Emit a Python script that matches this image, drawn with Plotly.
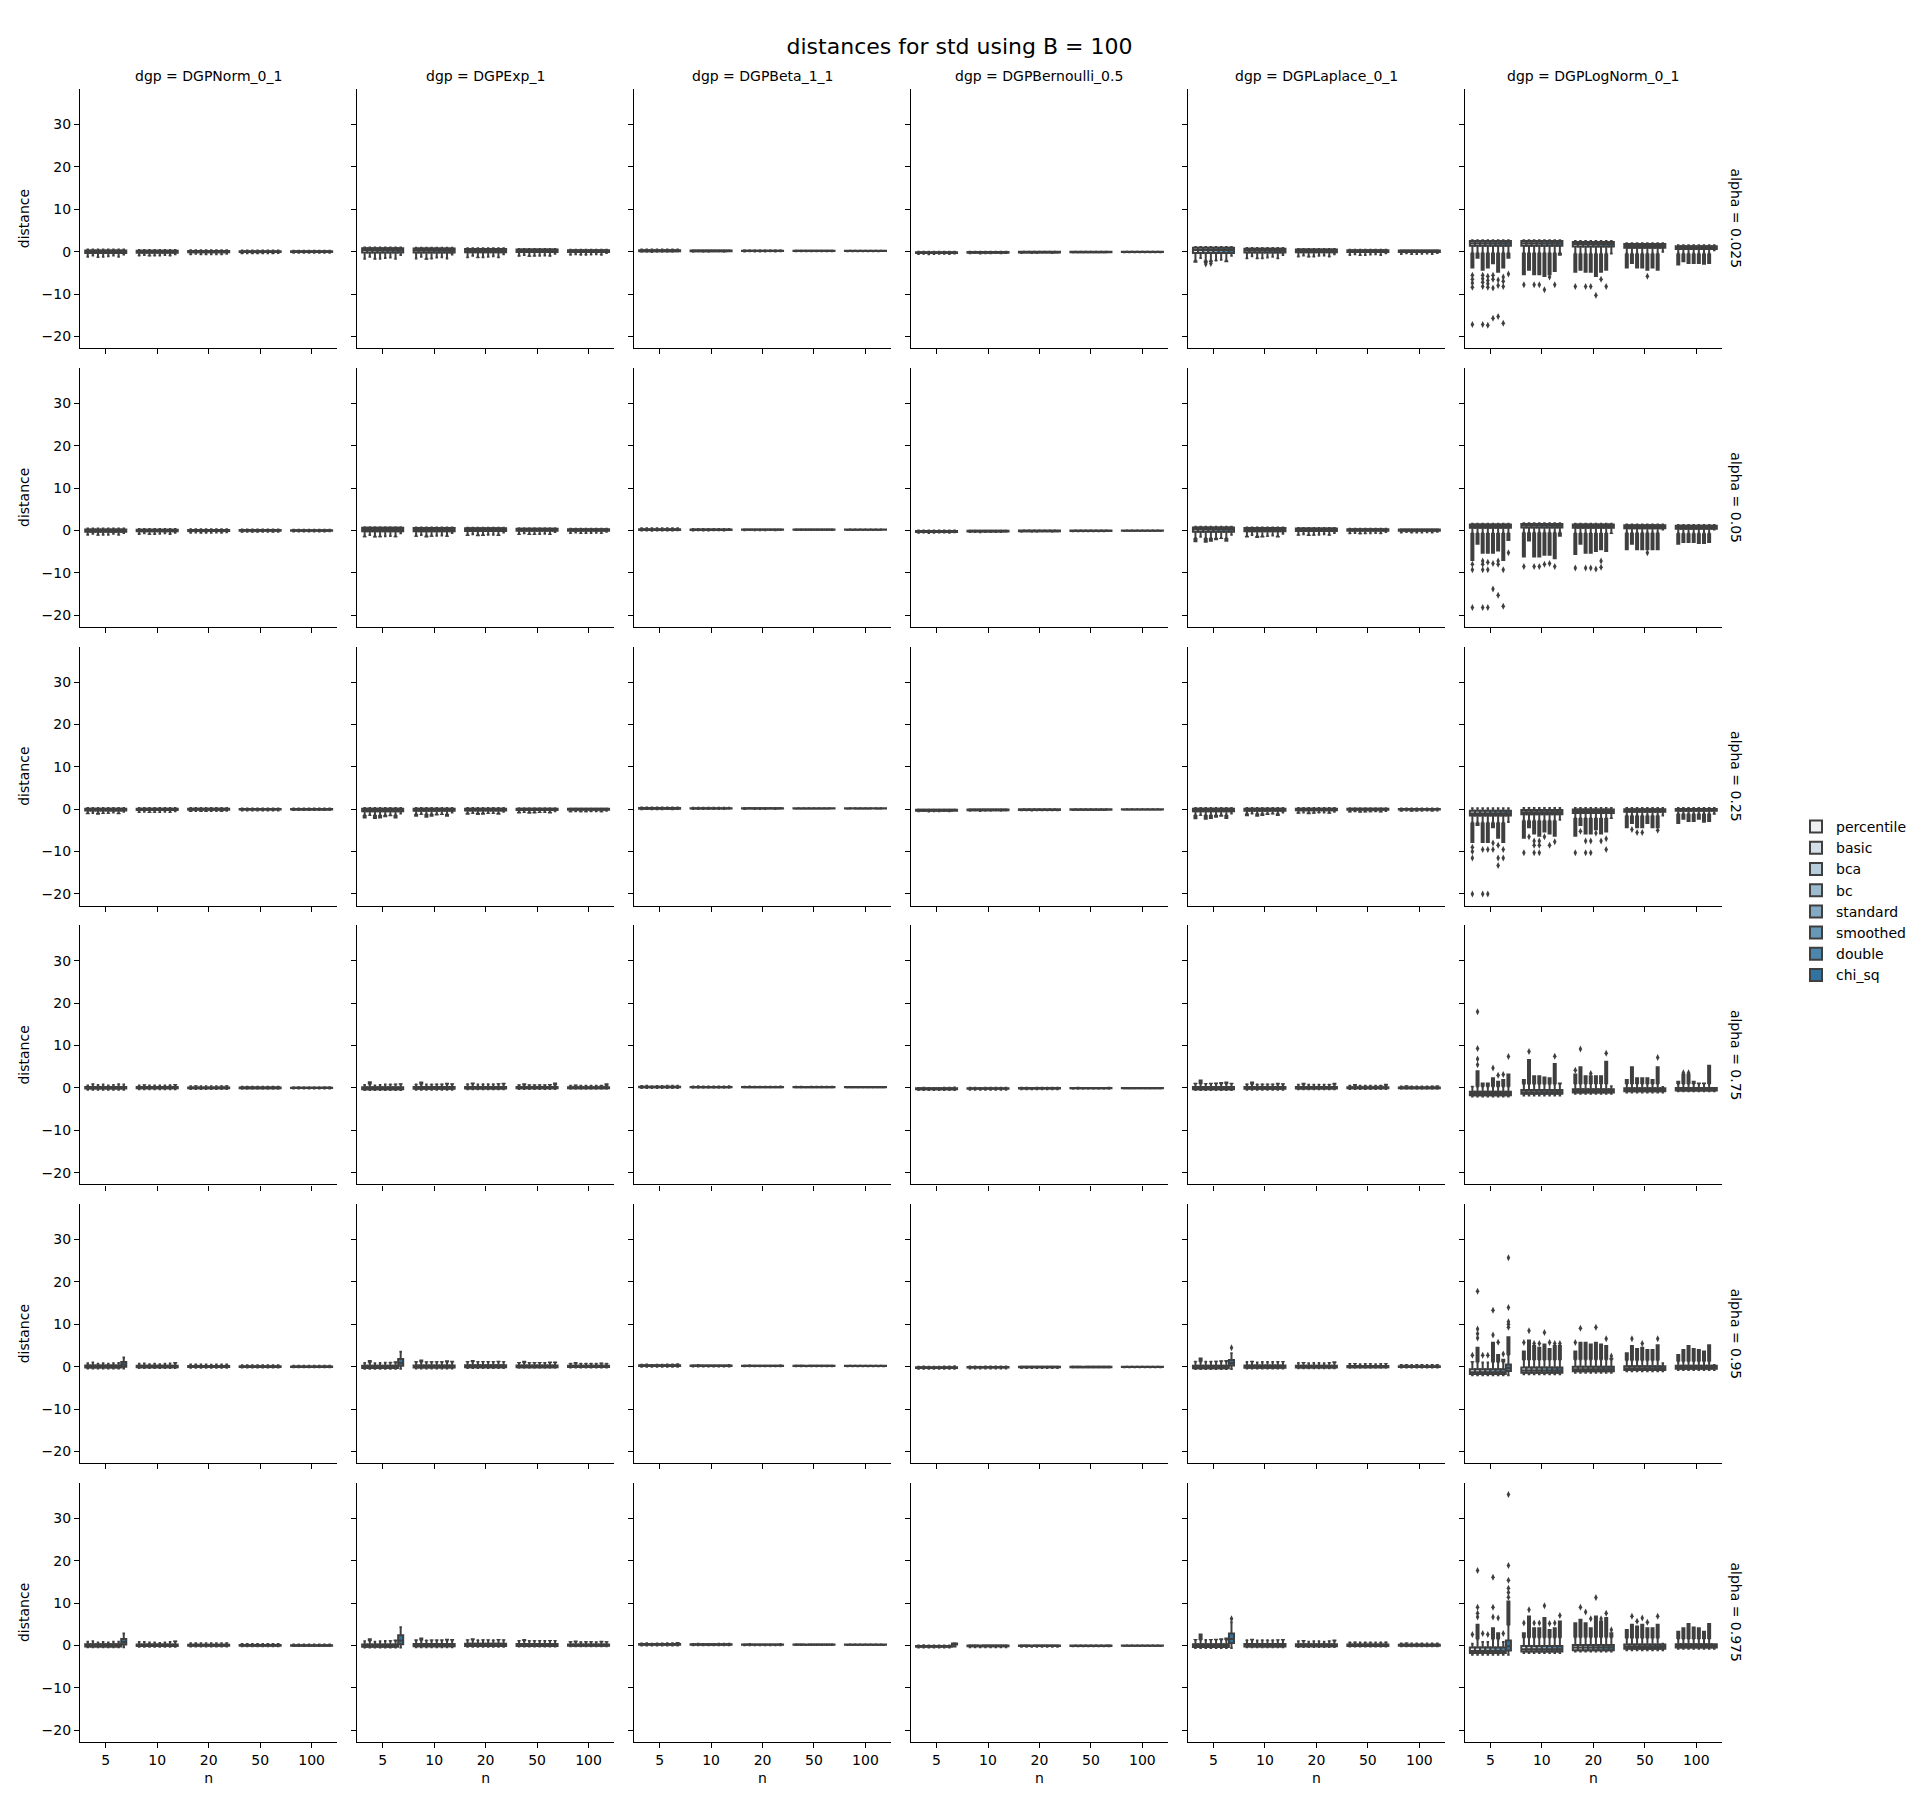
import plotly.graph_objects as go
from plotly.subplots import make_subplots

# ---------------- data ----------------
DGPS = ["DGPNorm_0_1", "DGPExp_1", "DGPBeta_1_1", "DGPBernoulli_0.5", "DGPLaplace_0_1", "DGPLogNorm_0_1"]
ALPHAS = ["0.025", "0.05", "0.25", "0.75", "0.95", "0.975"]
NS = ["5", "10", "20", "50", "100"]
METHODS = ["percentile", "basic", "bca", "bc", "standard", "smoothed", "double", "chi_sq"]
COLORS = ["#eef0f2", "#d3dee6", "#b8cddb", "#9dbbcf", "#83a9c4", "#6898b8", "#4d86ad", "#3274a1"]
YTICKS = [-20, -10, 0, 10, 20, 30]

# per dgp: BOX[alpha][n] = [q1, median, q3]; SHORT[alpha][n] = short-side whisker end;
# LONG[alpha][n][method] = end of whisker + dense outliers on the long side
NORM_BOX = [
    [[-0.35, -0.05, 0.25], [-0.25, 0.0, 0.2], [-0.15, 0.02, 0.15], [-0.1, 0.0, 0.1], [-0.07, 0.0, 0.07]],
    [[-0.3, -0.05, 0.2], [-0.22, 0.0, 0.18], [-0.14, 0.0, 0.12], [-0.09, 0.0, 0.08], [-0.06, 0.0, 0.06]],
    [[-0.3, -0.1, 0.1], [-0.2, -0.05, 0.1], [-0.12, 0.0, 0.08], [-0.08, 0.0, 0.06], [-0.05, 0.0, 0.04]],
    [[-0.15, 0.0, 0.25], [-0.1, 0.02, 0.2], [-0.08, 0.02, 0.12], [-0.05, 0.0, 0.08], [-0.04, 0.0, 0.05]],
    [[-0.2, 0.0, 0.3], [-0.1, 0.05, 0.25], [-0.08, 0.02, 0.15], [-0.05, 0.02, 0.1], [-0.04, 0.0, 0.06]],
    [[-0.25, 0.0, 0.3], [-0.12, 0.05, 0.25], [-0.08, 0.03, 0.16], [-0.05, 0.02, 0.1], [-0.04, 0.0, 0.07]],
]
NORM_SHORT = [
    [0.5, 0.4, 0.3, 0.25, 0.18],
    [0.45, 0.35, 0.28, 0.22, 0.16],
    [0.3, 0.3, 0.25, 0.18, 0.13],
    [-0.4, -0.3, -0.25, -0.2, -0.15],
    [-0.4, -0.3, -0.25, -0.18, -0.14],
    [-0.45, -0.3, -0.25, -0.18, -0.14],
]
NORM_LONG = [
    [[-1.2, -0.9, -1.3, -1.2, -1.1, -0.9, -1.2, -0.7],
     [-1.0, -0.8, -1.1, -1.0, -0.9, -0.8, -1.0, -0.6],
     [-0.7, -0.5, -0.7, -0.7, -0.6, -0.6, -0.7, -0.5],
     [-0.5, -0.4, -0.5, -0.5, -0.45, -0.4, -0.5, -0.35],
     [-0.35, -0.3, -0.35, -0.35, -0.3, -0.3, -0.35, -0.25]],
    [[-1.1, -0.8, -1.2, -1.1, -1.0, -0.8, -1.1, -0.6],
     [-0.9, -0.7, -1.0, -0.9, -0.8, -0.7, -0.9, -0.55],
     [-0.6, -0.5, -0.65, -0.6, -0.55, -0.5, -0.6, -0.45],
     [-0.45, -0.35, -0.45, -0.45, -0.4, -0.35, -0.45, -0.3],
     [-0.3, -0.25, -0.3, -0.3, -0.28, -0.25, -0.3, -0.2]],
    [[-1.2, -0.9, -1.3, -1.1, -1.0, -0.8, -1.2, -0.6],
     [-0.8, -0.6, -0.9, -0.8, -0.7, -0.6, -0.8, -0.5],
     [-0.6, -0.45, -0.6, -0.6, -0.5, -0.45, -0.6, -0.4],
     [-0.4, -0.35, -0.4, -0.4, -0.38, -0.35, -0.4, -0.3],
     [-0.3, -0.25, -0.3, -0.3, -0.28, -0.25, -0.3, -0.2]],
    [[0.6, 1.0, 0.7, 0.8, 0.6, 0.7, 0.9, 0.8],
     [0.6, 0.8, 0.6, 0.6, 0.55, 0.6, 0.7, 0.9],
     [0.45, 0.55, 0.45, 0.45, 0.4, 0.45, 0.5, 0.6],
     [0.35, 0.4, 0.35, 0.35, 0.32, 0.35, 0.38, 0.4],
     [0.25, 0.3, 0.25, 0.25, 0.22, 0.25, 0.28, 0.3]],
    [[0.8, 1.0, 0.7, 0.8, 0.7, 0.8, 0.9, 2.2],
     [0.7, 0.8, 0.6, 0.7, 0.6, 0.7, 0.8, 1.1],
     [0.5, 0.6, 0.5, 0.5, 0.45, 0.5, 0.55, 0.6],
     [0.35, 0.4, 0.35, 0.35, 0.32, 0.35, 0.38, 0.4],
     [0.25, 0.3, 0.25, 0.25, 0.22, 0.25, 0.28, 0.3]],
    [[0.9, 1.0, 0.7, 0.8, 0.7, 0.9, 0.9, 2.8],
     [0.8, 0.8, 0.7, 0.7, 0.6, 0.7, 0.8, 1.2],
     [0.55, 0.6, 0.5, 0.55, 0.5, 0.5, 0.55, 0.65],
     [0.4, 0.42, 0.38, 0.4, 0.35, 0.38, 0.4, 0.42],
     [0.28, 0.3, 0.26, 0.28, 0.25, 0.26, 0.28, 0.3]],
]

EXP_BOX = [
    [[-0.2, 0.4, 0.8], [-0.2, 0.35, 0.75], [-0.15, 0.3, 0.65], [-0.1, 0.2, 0.5], [-0.08, 0.15, 0.35]],
    [[-0.2, 0.3, 0.6], [-0.18, 0.25, 0.55], [-0.12, 0.2, 0.5], [-0.1, 0.15, 0.4], [-0.07, 0.1, 0.3]],
    [[-0.5, -0.15, 0.1], [-0.4, -0.1, 0.1], [-0.3, -0.05, 0.1], [-0.2, -0.02, 0.1], [-0.15, 0.0, 0.08]],
    [[-0.3, -0.1, 0.15], [-0.2, 0.0, 0.2], [-0.15, 0.05, 0.25], [-0.1, 0.05, 0.2], [-0.08, 0.05, 0.15]],
    [[-0.3, -0.05, 0.2], [-0.2, 0.05, 0.3], [-0.15, 0.1, 0.35], [-0.1, 0.08, 0.3], [-0.08, 0.06, 0.22]],
    [[-0.3, -0.05, 0.25], [-0.2, 0.05, 0.35], [-0.15, 0.1, 0.4], [-0.1, 0.1, 0.35], [-0.08, 0.08, 0.25]],
]
EXP_SHORT = [
    [1.0, 0.9, 0.8, 0.6, 0.45],
    [0.75, 0.7, 0.6, 0.5, 0.38],
    [0.3, 0.3, 0.25, 0.2, 0.18],
    [-0.5, -0.4, -0.3, -0.25, -0.2],
    [-0.5, -0.4, -0.3, -0.25, -0.2],
    [-0.5, -0.4, -0.3, -0.25, -0.2],
]
EXP_LONG = [
    [[-1.7, -1.2, -1.8, -1.7, -1.5, -1.4, -1.7, -0.8],
     [-1.6, -1.2, -1.9, -1.7, -1.4, -1.3, -1.6, -0.7],
     [-1.4, -1.0, -1.5, -1.4, -1.2, -1.1, -1.4, -0.6],
     [-1.1, -0.8, -1.2, -1.1, -1.0, -0.9, -1.1, -0.5],
     [-0.8, -0.6, -0.8, -0.8, -0.7, -0.6, -0.8, -0.35]],
    [[-1.6, -1.1, -1.7, -1.6, -1.4, -1.3, -1.6, -0.7],
     [-1.5, -1.1, -1.7, -1.5, -1.3, -1.2, -1.5, -0.6],
     [-1.3, -0.9, -1.4, -1.3, -1.1, -1.0, -1.3, -0.5],
     [-1.0, -0.7, -1.1, -1.0, -0.9, -0.8, -1.0, -0.4],
     [-0.7, -0.5, -0.75, -0.7, -0.6, -0.55, -0.7, -0.3]],
    [[-2.2, -1.5, -2.3, -2.2, -1.9, -1.7, -2.2, -1.0],
     [-1.8, -1.3, -2.0, -1.8, -1.5, -1.4, -1.8, -0.8],
     [-1.3, -1.0, -1.4, -1.3, -1.1, -1.0, -1.3, -0.6],
     [-1.0, -0.8, -1.1, -1.0, -0.9, -0.8, -1.0, -0.5],
     [-0.7, -0.55, -0.75, -0.7, -0.6, -0.55, -0.7, -0.35]],
    [[0.7, 1.6, 0.6, 0.7, 0.8, 0.9, 1.0, 1.1],
     [0.9, 1.5, 0.8, 0.9, 1.0, 1.0, 1.2, 1.1],
     [0.9, 1.3, 0.8, 0.9, 0.9, 0.9, 1.1, 1.2],
     [0.8, 1.1, 0.8, 0.8, 0.8, 0.8, 0.9, 1.3],
     [0.6, 0.8, 0.6, 0.6, 0.6, 0.6, 0.7, 1.1]],
    [[0.9, 1.6, 0.8, 0.9, 1.0, 1.1, 1.3, 3.5],
     [1.3, 1.7, 1.2, 1.3, 1.3, 1.3, 1.5, 1.4],
     [1.3, 1.6, 1.2, 1.3, 1.3, 1.2, 1.4, 1.2],
     [1.1, 1.4, 1.0, 1.1, 1.1, 1.0, 1.2, 1.2],
     [0.9, 1.1, 0.8, 0.9, 0.9, 0.8, 1.0, 0.9]],
    [[1.0, 1.7, 0.9, 1.0, 1.1, 1.2, 1.4, 4.3],
     [1.4, 1.9, 1.3, 1.4, 1.4, 1.4, 1.6, 1.5],
     [1.4, 1.7, 1.3, 1.4, 1.4, 1.3, 1.5, 1.4],
     [1.2, 1.5, 1.1, 1.2, 1.2, 1.1, 1.3, 1.2],
     [1.0, 1.2, 0.9, 1.0, 1.0, 0.9, 1.1, 1.0]],
]

BETA_BOX = [
    [[0.1, 0.2, 0.3], [0.12, 0.18, 0.25], [0.13, 0.17, 0.22], [0.14, 0.17, 0.2], [0.15, 0.17, 0.19]],
    [[0.1, 0.2, 0.3], [0.12, 0.18, 0.24], [0.13, 0.17, 0.22], [0.14, 0.17, 0.2], [0.15, 0.17, 0.19]],
    [[0.12, 0.2, 0.28], [0.13, 0.18, 0.24], [0.14, 0.18, 0.22], [0.15, 0.17, 0.2], [0.16, 0.17, 0.19]],
    [[0.15, 0.22, 0.3], [0.15, 0.2, 0.25], [0.15, 0.19, 0.23], [0.16, 0.18, 0.21], [0.16, 0.18, 0.2]],
    [[0.15, 0.22, 0.32], [0.15, 0.2, 0.26], [0.15, 0.19, 0.23], [0.16, 0.18, 0.21], [0.16, 0.18, 0.2]],
    [[0.15, 0.23, 0.33], [0.15, 0.2, 0.26], [0.15, 0.19, 0.24], [0.16, 0.18, 0.21], [0.16, 0.18, 0.2]],
]
BETA_SHORT = [
    [0.5, 0.35, 0.3, 0.25, 0.22],
    [0.48, 0.35, 0.3, 0.25, 0.22],
    [0.4, 0.32, 0.28, 0.24, 0.21],
    [0.0, 0.05, 0.08, 0.1, 0.12],
    [0.0, 0.05, 0.08, 0.1, 0.12],
    [0.0, 0.05, 0.08, 0.1, 0.12],
]
BETA_LONG = [
    [[-0.05, 0.0, -0.1, -0.05, -0.05, 0.0, -0.05, 0.05],
     [0.0, 0.05, -0.02, 0.0, 0.02, 0.05, 0.0, 0.08],
     [0.05, 0.08, 0.03, 0.05, 0.05, 0.08, 0.05, 0.1],
     [0.08, 0.1, 0.07, 0.08, 0.08, 0.1, 0.08, 0.12],
     [0.1, 0.12, 0.1, 0.1, 0.11, 0.12, 0.1, 0.13]],
    [[-0.04, 0.0, -0.08, -0.04, -0.04, 0.0, -0.04, 0.05],
     [0.0, 0.05, -0.02, 0.0, 0.02, 0.05, 0.0, 0.08],
     [0.05, 0.08, 0.03, 0.05, 0.05, 0.08, 0.05, 0.1],
     [0.08, 0.1, 0.07, 0.08, 0.08, 0.1, 0.08, 0.12],
     [0.1, 0.12, 0.1, 0.1, 0.11, 0.12, 0.1, 0.13]],
    [[0.0, 0.03, -0.03, 0.0, 0.0, 0.03, 0.0, 0.06],
     [0.03, 0.06, 0.02, 0.03, 0.04, 0.06, 0.03, 0.09],
     [0.06, 0.09, 0.05, 0.06, 0.06, 0.09, 0.06, 0.11],
     [0.09, 0.11, 0.08, 0.09, 0.09, 0.11, 0.09, 0.13],
     [0.11, 0.13, 0.11, 0.11, 0.12, 0.13, 0.11, 0.14]],
    [[0.45, 0.5, 0.4, 0.45, 0.45, 0.5, 0.5, 0.55],
     [0.35, 0.38, 0.33, 0.35, 0.35, 0.36, 0.36, 0.4],
     [0.3, 0.32, 0.28, 0.3, 0.3, 0.3, 0.3, 0.32],
     [0.26, 0.27, 0.25, 0.26, 0.26, 0.26, 0.26, 0.27],
     [0.23, 0.24, 0.22, 0.23, 0.23, 0.23, 0.23, 0.24]],
    [[0.45, 0.5, 0.4, 0.45, 0.45, 0.5, 0.5, 0.7],
     [0.36, 0.4, 0.34, 0.36, 0.36, 0.37, 0.37, 0.45],
     [0.3, 0.32, 0.28, 0.3, 0.3, 0.3, 0.3, 0.33],
     [0.26, 0.27, 0.25, 0.26, 0.26, 0.26, 0.26, 0.27],
     [0.23, 0.24, 0.22, 0.23, 0.23, 0.23, 0.23, 0.24]],
    [[0.48, 0.52, 0.42, 0.48, 0.48, 0.52, 0.52, 0.8],
     [0.37, 0.4, 0.35, 0.37, 0.37, 0.38, 0.38, 0.5],
     [0.31, 0.33, 0.29, 0.31, 0.31, 0.31, 0.31, 0.34],
     [0.26, 0.27, 0.25, 0.26, 0.26, 0.26, 0.26, 0.28],
     [0.23, 0.24, 0.22, 0.23, 0.23, 0.23, 0.23, 0.24]],
]

BERN_BOX = [
    [[-0.35, -0.25, -0.15], [-0.25, -0.15, -0.08], [-0.18, -0.1, -0.05], [-0.12, -0.07, -0.03], [-0.08, -0.05, -0.02]],
    [[-0.35, -0.25, -0.15], [-0.25, -0.15, -0.08], [-0.18, -0.1, -0.05], [-0.12, -0.07, -0.03], [-0.08, -0.05, -0.02]],
    [[-0.35, -0.25, -0.15], [-0.24, -0.14, -0.07], [-0.17, -0.1, -0.04], [-0.11, -0.06, -0.02], [-0.08, -0.04, -0.01]],
    [[-0.3, -0.2, -0.1], [-0.2, -0.12, -0.05], [-0.15, -0.08, -0.03], [-0.1, -0.05, -0.01], [-0.07, -0.03, 0.0]],
    [[-0.3, -0.2, -0.1], [-0.2, -0.12, -0.04], [-0.15, -0.08, -0.02], [-0.1, -0.05, -0.01], [-0.07, -0.03, 0.0]],
    [[-0.3, -0.2, -0.1], [-0.2, -0.1, -0.03], [-0.14, -0.07, -0.02], [-0.1, -0.05, 0.0], [-0.07, -0.03, 0.0]],
]
BERN_SHORT = [
    [-0.05, -0.02, 0.0, 0.0, 0.0],
    [-0.05, -0.02, 0.0, 0.0, 0.0],
    [-0.05, -0.02, 0.0, 0.0, 0.0],
    [-0.5, -0.4, -0.3, -0.2, -0.15],
    [-0.5, -0.4, -0.3, -0.2, -0.15],
    [-0.5, -0.4, -0.3, -0.2, -0.15],
]
BERN_LONG = [
    [[-0.55, -0.5, -0.6, -0.55, -0.5, -0.5, -0.55, -0.45],
     [-0.4, -0.35, -0.45, -0.4, -0.38, -0.35, -0.4, -0.32],
     [-0.3, -0.28, -0.32, -0.3, -0.28, -0.27, -0.3, -0.25],
     [-0.2, -0.18, -0.22, -0.2, -0.19, -0.18, -0.2, -0.16],
     [-0.15, -0.13, -0.16, -0.15, -0.14, -0.13, -0.15, -0.12]],
    [[-0.55, -0.5, -0.6, -0.55, -0.5, -0.5, -0.55, -0.45],
     [-0.4, -0.35, -0.45, -0.4, -0.38, -0.35, -0.4, -0.32],
     [-0.3, -0.28, -0.32, -0.3, -0.28, -0.27, -0.3, -0.25],
     [-0.2, -0.18, -0.22, -0.2, -0.19, -0.18, -0.2, -0.16],
     [-0.15, -0.13, -0.16, -0.15, -0.14, -0.13, -0.15, -0.12]],
    [[-0.5, -0.45, -0.55, -0.5, -0.48, -0.45, -0.5, -0.4],
     [-0.38, -0.34, -0.42, -0.38, -0.36, -0.34, -0.38, -0.3],
     [-0.28, -0.26, -0.3, -0.28, -0.27, -0.26, -0.28, -0.24],
     [-0.2, -0.18, -0.21, -0.2, -0.19, -0.18, -0.2, -0.16],
     [-0.14, -0.13, -0.15, -0.14, -0.14, -0.13, -0.14, -0.12]],
    [[0.0, 0.05, -0.02, 0.0, 0.0, 0.02, 0.02, 0.1],
     [0.02, 0.05, 0.0, 0.02, 0.02, 0.03, 0.03, 0.05],
     [0.02, 0.03, 0.01, 0.02, 0.02, 0.02, 0.02, 0.03],
     [0.01, 0.02, 0.01, 0.01, 0.01, 0.01, 0.01, 0.02],
     [0.01, 0.01, 0.0, 0.01, 0.01, 0.01, 0.01, 0.01]],
    [[0.0, 0.05, -0.02, 0.0, 0.0, 0.02, 0.02, 0.12],
     [0.03, 0.06, 0.01, 0.03, 0.03, 0.04, 0.04, 0.06],
     [0.03, 0.04, 0.02, 0.03, 0.03, 0.03, 0.03, 0.04],
     [0.02, 0.02, 0.01, 0.02, 0.02, 0.02, 0.02, 0.02],
     [0.01, 0.01, 0.01, 0.01, 0.01, 0.01, 0.01, 0.01]],
    [[0.0, 0.05, -0.02, 0.0, 0.0, 0.02, 0.02, 0.5],
     [0.04, 0.07, 0.02, 0.04, 0.04, 0.05, 0.05, 0.08],
     [0.03, 0.04, 0.02, 0.03, 0.03, 0.03, 0.03, 0.05],
     [0.02, 0.02, 0.01, 0.02, 0.02, 0.02, 0.02, 0.03],
     [0.01, 0.01, 0.01, 0.01, 0.01, 0.01, 0.01, 0.01]],
]

LAPLACE_BOX = [
    [[-0.3, 0.4, 0.9], [-0.2, 0.3, 0.7], [-0.15, 0.2, 0.5], [-0.1, 0.12, 0.35], [-0.07, 0.08, 0.25]],
    [[-0.3, 0.3, 0.7], [-0.2, 0.25, 0.55], [-0.15, 0.15, 0.45], [-0.1, 0.1, 0.3], [-0.07, 0.06, 0.2]],
    [[-0.5, -0.15, 0.1], [-0.35, -0.1, 0.1], [-0.25, -0.05, 0.1], [-0.15, -0.02, 0.08], [-0.1, 0.0, 0.06]],
    [[-0.3, -0.05, 0.2], [-0.2, 0.0, 0.2], [-0.15, 0.02, 0.2], [-0.1, 0.02, 0.15], [-0.07, 0.02, 0.1]],
    [[-0.35, -0.05, 0.25], [-0.25, 0.02, 0.3], [-0.18, 0.03, 0.25], [-0.12, 0.02, 0.18], [-0.08, 0.02, 0.12]],
    [[-0.35, -0.05, 0.3], [-0.25, 0.05, 0.35], [-0.18, 0.05, 0.3], [-0.12, 0.03, 0.2], [-0.08, 0.02, 0.14]],
]
LAPLACE_SHORT = [
    [1.1, 0.85, 0.65, 0.45, 0.3],
    [0.85, 0.7, 0.55, 0.4, 0.28],
    [0.3, 0.3, 0.25, 0.2, 0.15],
    [-0.5, -0.4, -0.3, -0.25, -0.18],
    [-0.55, -0.45, -0.35, -0.25, -0.18],
    [-0.6, -0.45, -0.35, -0.25, -0.18],
]
LAPLACE_LONG = [
    [[-2.6, -1.5, -2.7, -2.5, -2.2, -1.9, -2.5, -1.0],
     [-1.6, -1.1, -1.7, -1.6, -1.4, -1.2, -1.6, -0.8],
     [-1.2, -0.9, -1.3, -1.2, -1.0, -0.9, -1.2, -0.6],
     [-0.8, -0.6, -0.9, -0.8, -0.7, -0.6, -0.8, -0.4],
     [-0.55, -0.4, -0.6, -0.55, -0.5, -0.45, -0.55, -0.3]],
    [[-2.8, -1.5, -2.9, -2.7, -2.3, -2.0, -2.7, -1.0],
     [-1.7, -1.1, -1.8, -1.7, -1.4, -1.2, -1.7, -0.8],
     [-1.2, -0.9, -1.3, -1.2, -1.0, -0.9, -1.2, -0.6],
     [-0.8, -0.6, -0.9, -0.8, -0.7, -0.6, -0.8, -0.4],
     [-0.55, -0.4, -0.6, -0.55, -0.5, -0.45, -0.55, -0.3]],
    [[-2.4, -1.5, -2.5, -2.3, -2.0, -1.8, -2.3, -1.0],
     [-1.7, -1.1, -1.8, -1.6, -1.4, -1.2, -1.6, -0.8],
     [-1.1, -0.8, -1.2, -1.1, -0.9, -0.8, -1.1, -0.6],
     [-0.8, -0.6, -0.85, -0.8, -0.7, -0.6, -0.8, -0.45],
     [-0.55, -0.4, -0.6, -0.55, -0.5, -0.45, -0.55, -0.3]],
    [[1.2, 2.0, 1.1, 1.2, 1.3, 1.4, 1.5, 1.2],
     [1.0, 1.5, 0.9, 1.0, 1.0, 1.0, 1.2, 1.1],
     [0.8, 1.2, 0.8, 0.8, 0.8, 0.8, 0.9, 1.2],
     [0.6, 0.9, 0.6, 0.6, 0.6, 0.6, 0.7, 1.0],
     [0.45, 0.65, 0.45, 0.45, 0.45, 0.45, 0.5, 0.6]],
    [[1.3, 2.2, 1.2, 1.3, 1.4, 1.5, 1.6, 3.2],
     [1.1, 1.4, 1.0, 1.1, 1.1, 1.1, 1.2, 1.3],
     [0.9, 1.1, 0.8, 0.9, 0.9, 0.8, 1.0, 1.3],
     [0.7, 0.8, 0.6, 0.7, 0.7, 0.6, 0.7, 0.8],
     [0.5, 0.6, 0.45, 0.5, 0.5, 0.45, 0.5, 0.5]],
    [[1.5, 2.8, 1.3, 1.5, 1.6, 1.7, 1.9, 5.5],
     [1.3, 1.6, 1.2, 1.3, 1.3, 1.3, 1.4, 1.5],
     [1.0, 1.3, 0.9, 1.0, 1.0, 0.9, 1.1, 1.4],
     [0.8, 0.9, 0.7, 0.8, 0.8, 0.7, 0.8, 0.9],
     [0.6, 0.7, 0.5, 0.6, 0.6, 0.5, 0.6, 0.6]],
]

LOGNORM_BOX = [
    [[1.4, 2.0, 2.5], [1.4, 2.0, 2.5], [1.2, 1.8, 2.3], [0.9, 1.4, 1.8], [0.6, 1.0, 1.3]],
    [[0.6, 1.1, 1.4], [0.7, 1.2, 1.5], [0.6, 1.1, 1.4], [0.5, 0.9, 1.2], [0.4, 0.8, 1.1]],
    [[-1.5, -1.0, -0.4], [-1.2, -0.7, -0.2], [-0.9, -0.5, -0.1], [-0.6, -0.3, 0.0], [-0.4, -0.2, 0.05]],
    [[-1.7, -1.4, -0.9], [-1.4, -1.0, -0.5], [-1.1, -0.7, -0.3], [-0.8, -0.5, -0.1], [-0.6, -0.3, 0.0]],
    [[-1.7, -1.3, -0.6], [-1.4, -0.9, -0.2], [-1.1, -0.6, 0.0], [-0.8, -0.4, 0.1], [-0.5, -0.2, 0.2]],
    [[-1.8, -1.3, -0.5], [-1.4, -0.9, -0.1], [-1.1, -0.5, 0.1], [-0.8, -0.3, 0.2], [-0.5, -0.1, 0.3]],
]
LOGNORM_SHORT = [
    [2.7, 2.7, 2.5, 2.0, 1.5],
    [1.6, 1.7, 1.6, 1.4, 1.3],
    [0.2, 0.3, 0.3, 0.3, 0.3],
    [-2.0, -1.8, -1.4, -1.1, -0.8],
    [-2.0, -1.8, -1.4, -1.1, -0.8],
    [-2.2, -1.8, -1.4, -1.1, -0.8],
]
LOGNORM_LONG = [
    [[-4.0, -1.7, -4.5, -4.0, -3.0, -5.0, -4.0, -1.7],
     [-5.6, -4.5, -5.6, -5.6, -6.0, -5.6, -4.8, -1.0],
     [-5.0, -4.5, -5.0, -5.0, -6.0, -5.0, -4.5, -0.5],
     [-4.0, -2.9, -4.0, -4.0, -4.5, -4.0, -4.5, 0.0],
     [-3.3, -2.5, -2.9, -2.9, -2.9, -3.1, -2.9, 0.3]],
    [[-7.2, -3.4, -5.5, -5.5, -5.5, -5.0, -7.2, -2.5],
     [-6.4, -2.6, -6.4, -6.4, -6.0, -6.0, -6.8, -1.5],
     [-5.8, -3.4, -5.5, -5.5, -5.1, -4.7, -5.1, -0.8],
     [-4.7, -3.4, -4.7, -4.7, -4.7, -4.7, -4.7, 0.2],
     [-3.4, -3.0, -3.0, -3.0, -3.2, -3.2, -3.0, 0.2]],
    [[-8.0, -4.0, -8.0, -8.0, -4.5, -7.0, -8.0, -3.0],
     [-7.0, -4.5, -6.0, -6.5, -5.5, -6.0, -6.5, -2.5],
     [-6.5, -4.0, -6.0, -6.0, -5.0, -6.0, -5.5, -2.2],
     [-4.5, -3.5, -4.5, -4.5, -3.5, -4.5, -4.5, -1.5],
     [-3.5, -2.5, -3.0, -3.0, -2.5, -3.2, -3.0, -1.2]],
    [[0.4, 4.2, 1.3, 1.3, 2.5, 1.7, 2.1, 3.4],
     [2.1, 6.8, 3.0, 3.0, 2.7, 2.5, 5.9, 1.3],
     [3.4, 5.1, 3.0, 3.0, 3.0, 3.0, 6.4, 0.4],
     [2.1, 5.1, 2.5, 2.5, 2.5, 2.1, 5.1, 0.2],
     [1.7, 3.4, 3.4, 1.7, 1.3, 1.3, 5.5, 0.0]],
    [[1.3, 4.7, 1.0, 1.0, 5.9, 3.0, 1.9, 7.2],
     [3.8, 6.4, 5.1, 4.7, 5.5, 4.4, 5.1, 5.1],
     [3.8, 5.9, 5.9, 5.5, 5.9, 5.5, 5.1, 2.1],
     [3.4, 5.1, 4.4, 4.7, 4.2, 4.2, 5.3, 0.8],
     [3.0, 4.2, 5.1, 4.4, 4.2, 3.8, 5.3, 0.4]],
    [[0.4, 5.1, 0.8, 0.8, 4.3, 3.1, 0.8, 10.6],
     [3.1, 7.1, 4.3, 4.3, 6.7, 3.9, 4.3, 5.9],
     [5.5, 6.3, 5.5, 4.3, 7.1, 5.9, 6.7, 3.1],
     [3.9, 5.1, 4.7, 5.1, 4.3, 4.3, 5.1, 0.4],
     [3.5, 4.3, 5.3, 4.5, 4.3, 3.5, 5.3, 0.0]],
]

# individual far outliers: (dgp index, alpha index, n index, method index, values)
SPARSE_POINTS = [
    (4, 0, 0, 2, [-2.9]), (4, 0, 0, 3, [-2.8]), (4, 4, 0, 7, [4.5]), (4, 5, 0, 7, [6.3]),
    (5, 0, 0, 0, [-5.6, -6.5, -7.4, -8.4, -17.2]), (5, 0, 0, 2, [-5.6, -6.4, -7.2, -8.2, -17.2]),
    (5, 0, 0, 3, [-5.8, -6.8, -7.6, -8.4, -17.4]), (5, 0, 0, 4, [-5.6, -6.5, -8.6, -15.7]),
    (5, 0, 0, 5, [-6.7, -8.0, -15.3]), (5, 0, 0, 6, [-6.0, -7.0, -8.2, -16.9]), (5, 0, 0, 7, [-5.3]),
    (5, 0, 1, 0, [-7.8]), (5, 0, 1, 2, [-7.8]), (5, 0, 1, 3, [-7.8]), (5, 0, 1, 4, [-9.0]),
    (5, 0, 1, 5, [-6.0]), (5, 0, 1, 6, [-7.8]),
    (5, 0, 2, 0, [-8.2]), (5, 0, 2, 2, [-8.2]), (5, 0, 2, 3, [-8.2]), (5, 0, 2, 4, [-10.3]),
    (5, 0, 2, 5, [-6.5]), (5, 0, 2, 6, [-8.2]), (5, 0, 3, 4, [-5.8]),
    (5, 1, 0, 0, [-8.0, -9.3, -18.2]), (5, 1, 0, 2, [-7.2, -8.0, -9.3, -18.2]), (5, 1, 0, 3, [-7.5, -9.3, -18.2]),
    (5, 1, 0, 4, [-7.8, -13.8]), (5, 1, 0, 5, [-7.2, -8.0, -15.3]), (5, 1, 0, 6, [-9.3, -17.9]), (5, 1, 0, 7, [-5.3]),
    (5, 1, 1, 0, [-8.5]), (5, 1, 1, 2, [-8.5]), (5, 1, 1, 3, [-8.5]), (5, 1, 1, 4, [-8.0]),
    (5, 1, 1, 5, [-7.8]), (5, 1, 1, 6, [-8.5]),
    (5, 1, 2, 0, [-8.9]), (5, 1, 2, 2, [-8.9]), (5, 1, 2, 3, [-8.9]), (5, 1, 2, 4, [-9.1]), (5, 1, 2, 5, [-7.2, -8.7]),
    (5, 1, 3, 4, [-5.3]),
    (5, 2, 0, 0, [-9.0, -10.0, -11.5, -20.0]), (5, 2, 0, 2, [-9.5, -20.0]), (5, 2, 0, 3, [-9.5, -20.0]),
    (5, 2, 0, 4, [-8.0, -9.5]), (5, 2, 0, 5, [-8.5, -11.5, -13.3]), (5, 2, 0, 6, [-9.5, -11.5]),
    (5, 2, 1, 0, [-10.3]), (5, 2, 1, 1, [-6.5]), (5, 2, 1, 2, [-7.5, -8.5, -10.3]), (5, 2, 1, 3, [-7.5, -8.5, -10.3]),
    (5, 2, 1, 4, [-6.5]), (5, 2, 1, 5, [-8.5]), (5, 2, 1, 6, [-7.7]),
    (5, 2, 2, 0, [-10.3]), (5, 2, 2, 1, [-5.2]), (5, 2, 2, 2, [-7.5, -10.3]), (5, 2, 2, 3, [-7.5, -10.3]),
    (5, 2, 2, 4, [-5.6]), (5, 2, 2, 5, [-7.5]), (5, 2, 2, 6, [-7.0, -9.5]),
    (5, 2, 3, 1, [-4.8]), (5, 2, 3, 2, [-5.5]), (5, 2, 3, 3, [-5.5]), (5, 2, 3, 6, [-5.0]),
    (5, 3, 0, 1, [5.5, 6.8, 9.3, 18.0]), (5, 3, 0, 4, [4.7]), (5, 3, 0, 5, [3.0]), (5, 3, 0, 6, [3.2]), (5, 3, 0, 7, [7.4]),
    (5, 3, 1, 1, [8.6]), (5, 3, 1, 6, [7.5]),
    (5, 3, 2, 0, [4.2]), (5, 3, 2, 1, [9.2]), (5, 3, 2, 3, [3.4]), (5, 3, 2, 6, [8.2]),
    (5, 3, 3, 6, [7.2]), (5, 3, 4, 1, [3.6]), (5, 3, 4, 2, [3.6]),
    (5, 4, 0, 0, [2.7]), (5, 4, 0, 1, [6.8, 7.8, 8.9, 17.8]), (5, 4, 0, 2, [2.7]), (5, 4, 0, 3, [2.7]),
    (5, 4, 0, 4, [7.5, 13.3]), (5, 4, 0, 5, [5.8]), (5, 4, 0, 6, [3.0]), (5, 4, 0, 7, [9.3, 10.0, 10.6, 14.0, 25.7]),
    (5, 4, 1, 0, [5.7]), (5, 4, 1, 1, [8.5]), (5, 4, 1, 2, [5.5]), (5, 4, 1, 3, [5.5]), (5, 4, 1, 4, [8.1]),
    (5, 4, 1, 5, [5.7]), (5, 4, 1, 6, [5.5]), (5, 4, 1, 7, [5.5]),
    (5, 4, 2, 0, [5.7]), (5, 4, 2, 1, [9.1]), (5, 4, 2, 4, [9.3]), (5, 4, 2, 6, [6.6]), (5, 4, 2, 7, [2.5]),
    (5, 4, 3, 1, [6.6]), (5, 4, 3, 3, [5.5]), (5, 4, 3, 6, [6.6]),
    (5, 5, 0, 0, [2.6]), (5, 5, 0, 1, [6.7, 7.6, 9.0, 17.7]), (5, 5, 0, 2, [2.8]), (5, 5, 0, 3, [2.6]),
    (5, 5, 0, 4, [6.7, 9.0, 16.1]), (5, 5, 0, 5, [6.5]), (5, 5, 0, 6, [2.8]),
    (5, 5, 0, 7, [11.4, 12.5, 13.5, 15.4, 18.9, 35.6]),
    (5, 5, 1, 0, [5.3]), (5, 5, 1, 1, [8.4]), (5, 5, 1, 2, [5.3]), (5, 5, 1, 3, [5.3]), (5, 5, 1, 4, [9.4]),
    (5, 5, 1, 5, [5.2]), (5, 5, 1, 6, [5.3]), (5, 5, 1, 7, [7.1]),
    (5, 5, 2, 1, [9.0]), (5, 5, 2, 2, [7.9]), (5, 5, 2, 3, [6.3]), (5, 5, 2, 4, [11.3]), (5, 5, 2, 5, [6.3]),
    (5, 5, 2, 6, [7.6]), (5, 5, 2, 7, [3.7]),
    (5, 5, 3, 1, [6.9]), (5, 5, 3, 2, [5.7]), (5, 5, 3, 3, [6.5]), (5, 5, 3, 4, [5.5]), (5, 5, 3, 6, [6.9]),
]

# boxes that differ from the shared per-n box: (dgp, alpha, n, method, q1, median, q3)
BOX_OVERRIDES = [
    (0, 4, 0, 7, 0.0, 0.5, 1.1), (0, 5, 0, 7, 0.2, 0.8, 1.5),
    (1, 4, 0, 7, 0.2, 0.9, 1.8), (1, 5, 0, 7, 0.3, 1.2, 2.4),
    (3, 5, 0, 7, 0.25, 0.35, 0.45),
    (4, 4, 0, 7, 0.3, 0.9, 1.6), (4, 5, 0, 7, 0.6, 1.5, 2.8),
    (5, 4, 0, 7, -1.0, -0.3, 0.5), (5, 5, 0, 7, -1.2, -0.2, 1.2),
]

DGP_TABLES = [
    (NORM_BOX, NORM_SHORT, NORM_LONG),
    (EXP_BOX, EXP_SHORT, EXP_LONG),
    (BETA_BOX, BETA_SHORT, BETA_LONG),
    (BERN_BOX, BERN_SHORT, BERN_LONG),
    (LAPLACE_BOX, LAPLACE_SHORT, LAPLACE_LONG),
    (LOGNORM_BOX, LOGNORM_SHORT, LOGNORM_LONG),
]

# ---------------- figure ----------------
W, H = 1919, 1800
GL, GR, GT, GB = 80, 1722, 89, 1742
GAP = 19.6
GRAY = "#3f3f3f"
FONT = "DejaVu Sans"
GROUP_W = 0.8
nm = len(METHODS)
each_w = GROUP_W / nm
offsets = [(m - (nm - 1) / 2) * each_w for m in range(nm)]


def px_to_paper_x(px):
    return (px - GL) / (GR - GL)


def px_to_paper_y(py):
    return (GB - py) / (GB - GT)


overrides = {(d, a, n, m): (q1, md, q3) for d, a, n, m, q1, md, q3 in BOX_OVERRIDES}
sparse = {}
for d, a, n, m, vals in SPARSE_POINTS:
    sparse[(d, a, n, m)] = vals

fig = make_subplots(rows=len(ALPHAS), cols=len(DGPS),
                    horizontal_spacing=GAP / (GR - GL), vertical_spacing=GAP / (GB - GT))

all_vals = []
for di, (BOX, SHORT, LONG) in enumerate(DGP_TABLES):
    for ai in range(len(ALPHAS)):
        row, col = ai + 1, di + 1
        strip_x, strip_y = [], []
        pts_x, pts_y = [], []
        for m in range(nm):
            xs, q1s, meds, q3s, lfs, ufs = [], [], [], [], [], []
            for ni in range(len(NS)):
                q1, md, q3 = overrides.get((di, ai, ni, m), BOX[ai][ni])
                long_v = LONG[ai][ni][m]
                short_v = SHORT[ai][ni]
                lo, hi = (long_v, short_v) if ai < 3 else (short_v, long_v)
                lo, hi = min(lo, q1), max(hi, q3)
                iqr = q3 - q1
                lf = max(lo, q1 - 1.5 * iqr)
                uf = min(hi, q3 + 1.5 * iqr)
                x = ni + offsets[m]
                xs.append(x); q1s.append(q1); meds.append(md); q3s.append(q3)
                lfs.append(lf); ufs.append(uf)
                if lo < lf:
                    strip_x += [x, x, None]; strip_y += [lf, lo, None]
                if hi > uf:
                    strip_x += [x, x, None]; strip_y += [uf, hi, None]
                all_vals += [lo, hi]
                for v in sparse.get((di, ai, ni, m), []):
                    pts_x.append(x); pts_y.append(v); all_vals.append(v)
            fig.add_trace(go.Box(
                x=xs, q1=q1s, median=meds, q3=q3s, lowerfence=lfs, upperfence=ufs,
                width=each_w * 0.98, whiskerwidth=0.5, fillcolor=COLORS[m],
                line=dict(color=GRAY, width=2), name=METHODS[m],
                showlegend=(di == 0 and ai == 0), hoverinfo="skip", boxpoints=False,
            ), row=row, col=col)
        if strip_x:
            fig.add_trace(go.Scatter(x=strip_x, y=strip_y, mode="lines",
                                     line=dict(color=GRAY, width=4), showlegend=False,
                                     hoverinfo="skip"), row=row, col=col)
        if pts_x:
            fig.add_trace(go.Scatter(x=pts_x, y=pts_y, mode="markers",
                                     marker=dict(symbol="diamond-tall", size=5, color=GRAY,
                                                 line=dict(width=0)),
                                     showlegend=False, hoverinfo="skip"), row=row, col=col)

ymin, ymax = min(all_vals), max(all_vals)
pad = 0.05 * (ymax - ymin)
yrange = [ymin - pad, ymax + pad]

axis_common = dict(showgrid=False, zeroline=False, showline=True, linecolor="black", linewidth=1.1,
                   ticks="outside", ticklen=5, tickwidth=1.1, tickcolor="black",
                   tickfont=dict(family=FONT, size=14, color="black"))
for ai in range(len(ALPHAS)):
    for di in range(len(DGPS)):
        r, c = ai + 1, di + 1
        fig.update_xaxes(row=r, col=c, range=[-0.5, len(NS) - 0.5], tickmode="array",
                         tickvals=list(range(len(NS))), ticktext=NS,
                         showticklabels=(r == len(ALPHAS)), **axis_common)
        fig.update_yaxes(row=r, col=c, range=yrange, tickmode="array", tickvals=YTICKS,
                         showticklabels=(c == 1), **axis_common)
        if c == 1:
            fig.update_yaxes(row=r, col=c, title=dict(text="distance", standoff=8,
                                                      font=dict(family=FONT, size=14, color="black")))
        if r == len(ALPHAS):
            fig.update_xaxes(row=r, col=c, title=dict(text="n", standoff=6,
                                                      font=dict(family=FONT, size=14, color="black")))

annotations = []
pw = (GR - GL - GAP * (len(DGPS) - 1)) / len(DGPS)
ph = (GB - GT - GAP * (len(ALPHAS) - 1)) / len(ALPHAS)
for di, dgp in enumerate(DGPS):
    cx = GL + di * (pw + GAP) + pw / 2
    annotations.append(dict(text=f"dgp = {dgp}", x=px_to_paper_x(cx), y=px_to_paper_y(76),
                            xref="paper", yref="paper",
                            xanchor="center", yanchor="middle", showarrow=False,
                            font=dict(family=FONT, size=14, color="black")))
for ai, a in enumerate(ALPHAS):
    cy = GT + ai * (ph + GAP) + ph / 2
    annotations.append(dict(text=f"alpha = {a}", x=px_to_paper_x(1736), y=px_to_paper_y(cy),
                            xref="paper", yref="paper",
                            xanchor="center", yanchor="middle", textangle=90, showarrow=False,
                            font=dict(family=FONT, size=14, color="black")))

fig.update_layout(
    width=W, height=H, margin=dict(l=GL, r=W - GR, t=GT, b=H - GB, autoexpand=False),
    paper_bgcolor="white", plot_bgcolor="white",
    font=dict(family=FONT, size=14, color="black"),
    title=dict(text="distances for std using B = 100", x=0.5, xanchor="center", xref="container",
               y=1 - 46 / H, yanchor="middle", yref="container",
               font=dict(family=FONT, size=22, color="black")),
    legend=dict(x=px_to_paper_x(1796), y=px_to_paper_y(811), xanchor="left", yanchor="top",
                bgcolor="rgba(0,0,0,0)", font=dict(family=FONT, size=14, color="black"),
                tracegroupgap=0),
    boxmode="overlay",
    annotations=annotations,
    showlegend=True,
)

fig.write_html("out.html")
